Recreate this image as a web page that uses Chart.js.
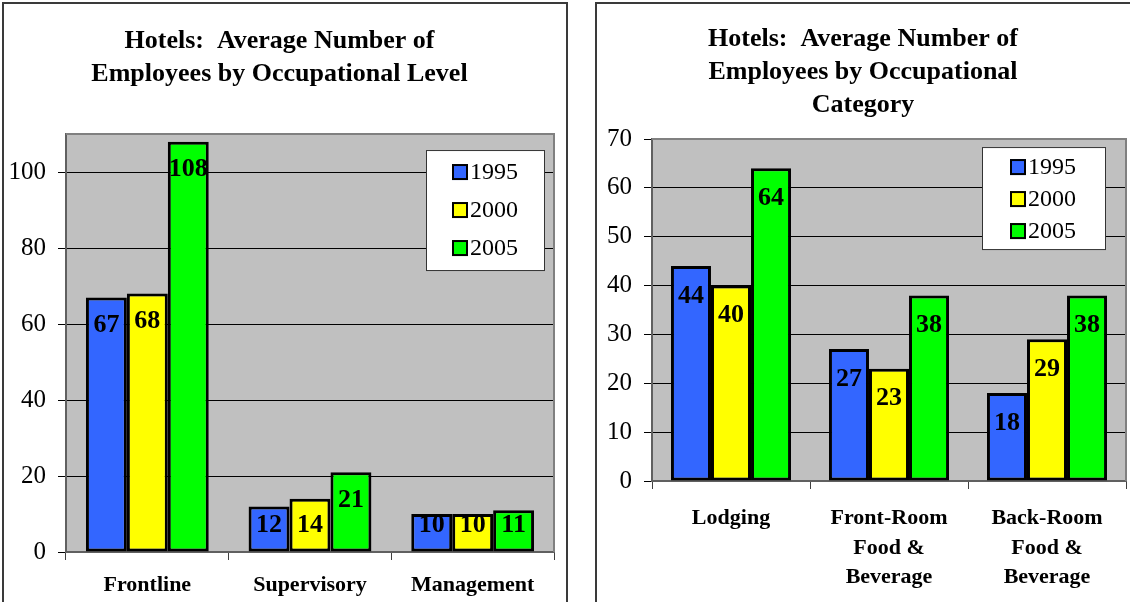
<!DOCTYPE html>
<html>
<head>
<meta charset="utf-8">
<script src="https://cdn.jsdelivr.net/npm/chart.js@4.4.1/dist/chart.umd.min.js"></script>
<style>
  html, body { margin: 0; padding: 0; background: #fff; overflow: hidden; }
  body { width: 1130px; height: 602px; position: relative; }
  .frame { position: absolute; border: 2px solid #3a3a3a; box-sizing: border-box; }
  canvas { position: absolute; }
</style>
</head>
<body>
<div class="frame" style="left:2px; top:2px; width:566px; height:640px;"></div>
<div class="frame" style="left:595px; top:2px; width:560px; height:640px;"></div>
<canvas id="levelChart" width="560" height="597" style="left:5px; top:5px;"></canvas>
<canvas id="categoryChart" width="530" height="597" style="left:600px; top:5px;"></canvas>
<script>
// Series years
const years = ['1995', '2000', '2005'];

// Chart 1: occupational level
const levels = ['Frontline', 'Supervisory', 'Management'];
const level1995 = [67, 12, 10];
const level2000 = [68, 14, 10];
const level2005 = [108, 21, 11];
const levelTicks = [0, 20, 40, 60, 80, 100];

// Chart 2: occupational category
const categories = [['Lodging'], ['Front-Room', 'Food &', 'Beverage'], ['Back-Room', 'Food &', 'Beverage']];
const cat1995 = [44, 27, 18];
const cat2000 = [40, 23, 29];
const cat2005 = [64, 38, 38];
const categoryTicks = [0, 10, 20, 30, 40, 50, 60, 70];

const seriesColors = ['#3366FF', '#FFFF00', '#00FF00'];
const SERIF = "'Liberation Serif', 'Times New Roman', serif";

// Gray plot background with a thin frame on the top and right edges
const plotBackground = {
  id: 'plotBackground',
  beforeDraw(chart) {
    const { ctx, chartArea: a } = chart;
    ctx.save();
    ctx.fillStyle = '#C0C0C0';
    ctx.fillRect(a.left, a.top, a.right - a.left, a.bottom - a.top);
    ctx.restore();
  },
  beforeDatasetsDraw(chart) {
    const { ctx, chartArea: a } = chart;
    ctx.save();
    ctx.strokeStyle = '#808080';
    ctx.lineWidth = 2;
    ctx.beginPath();
    ctx.moveTo(a.left, a.top);
    ctx.lineTo(a.right, a.top);
    ctx.lineTo(a.right, a.bottom);
    ctx.stroke();
    ctx.restore();
  }
};

// Value labels placed just inside the top of each bar
const barValues = {
  id: 'barValues',
  afterDatasetsDraw(chart, args, opts) {
    const { ctx } = chart;
    ctx.save();
    ctx.font = 'bold 26px ' + SERIF;
    ctx.fillStyle = '#000';
    ctx.textAlign = 'center';
    ctx.textBaseline = 'middle';
    chart.data.datasets.forEach((ds, i) => {
      chart.getDatasetMeta(i).data.forEach((bar, j) => {
        const y = Math.min(bar.y + opts.offset, bar.base - opts.offset);
        ctx.fillText(String(ds.data[j]), bar.x, y + 1);
      });
    });
    ctx.restore();
  }
};

// Boxed legend inside the plot area
const boxLegend = {
  id: 'boxLegend',
  afterDraw(chart, args, o) {
    const { ctx, chartArea: a } = chart;
    const x = a.right - o.right - o.width;
    const y = a.top + o.top;
    ctx.save();
    ctx.fillStyle = '#fff';
    ctx.fillRect(x, y, o.width, o.height);
    ctx.strokeStyle = '#333';
    ctx.lineWidth = 1;
    ctx.strokeRect(x + 0.5, y + 0.5, o.width, o.height);
    ctx.font = '24px ' + SERIF;
    ctx.textBaseline = 'middle';
    ctx.textAlign = 'left';
    chart.data.datasets.forEach((ds, i) => {
      const cy = y + o.firstRow + i * o.rowGap;
      const mx = x + o.markerX;
      ctx.fillStyle = ds.backgroundColor;
      ctx.fillRect(mx, cy - 8, 16, 16);
      ctx.strokeStyle = '#000';
      ctx.lineWidth = 2;
      ctx.strokeRect(mx + 1, cy - 7, 14, 14);
      ctx.fillStyle = '#000';
      ctx.fillText(ds.label, mx + 18, cy + 1);
    });
    ctx.restore();
  }
};

function makeChart(id, g) {
  return new Chart(document.getElementById(id), {
    type: 'bar',
    data: {
      labels: g.labels,
      datasets: g.series.map((values, i) => ({
        label: years[i],
        data: values,
        backgroundColor: seriesColors[i],
        borderColor: '#000',
        borderWidth: 3,
        borderSkipped: false,
        categoryPercentage: g.catPct,
        barPercentage: 1.0
      }))
    },
    options: {
      responsive: false,
      animation: false,
      events: [],
      layout: { padding: { left: 0, right: g.padRight, top: 0, bottom: 0 } },
      plugins: {
        legend: { display: false },
        tooltip: { enabled: false },
        title: {
          display: true,
          text: g.title,
          color: '#000',
          font: { family: SERIF, size: 26, weight: 'bold', lineHeight: 1.27 },
          padding: { top: g.titleTop, bottom: g.titleBottom }
        },
        barValues: { offset: g.valueOffset },
        boxLegend: g.legend
      },
      scales: {
        x: {
          grid: { drawOnChartArea: false, drawTicks: true, tickLength: 8, color: '#404040', lineWidth: 1, offset: true },
          border: { display: true, color: '#606060', width: 2 },
          ticks: {
            color: '#000',
            padding: g.xPad,
            maxRotation: 0,
            autoSkip: false,
            font: { family: SERIF, size: 22, weight: 'bold', lineHeight: 1.36 }
          },
          afterFit(s) { s.height = g.xHeight; }
        },
        y: {
          min: 0,
          max: g.max,
          grid: { color: '#000', lineWidth: 1, tickLength: 8, drawTicks: true },
          border: { display: true, color: '#606060', width: 2 },
          ticks: {
            stepSize: g.step,
            color: '#000',
            padding: 12,
            font: { family: SERIF, size: 25 }
          },
          afterBuildTicks(s) { s.ticks = g.tickValues.map(v => ({ value: v })); },
          afterFit(s) { s.width = g.yWidth; }
        }
      }
    },
    plugins: [plotBackground, barValues, boxLegend]
  });
}

makeChart('levelChart', {
  labels: levels,
  series: [level1995, level2000, level2005],
  title: ['Hotels:  Average Number of', 'Employees by Occupational Level'],
  titleTop: 19.5, titleBottom: 43.5,
  max: 110, step: 20, tickValues: levelTicks,
  yWidth: 61, xHeight: 50, padRight: 11, xPad: 10,
  catPct: 0.755, valueOffset: 27,
  legend: { right: 10, top: 16, width: 118, height: 120, markerX: 26, firstRow: 22, rowGap: 38 }
});

makeChart('categoryChart', {
  labels: categories,
  series: [cat1995, cat2000, cat2005],
  title: ['Hotels:  Average Number of', 'Employees by Occupational', 'Category'],
  titleTop: 18, titleBottom: 17,
  max: 70, step: 10, tickValues: categoryTicks,
  yWidth: 52, xHeight: 121, padRight: 4, xPad: 14,
  catPct: 0.76, valueOffset: 29,
  legend: { right: 21, top: 8, width: 123, height: 102, markerX: 28, firstRow: 20, rowGap: 32 }
});
</script>
</body>
</html>
